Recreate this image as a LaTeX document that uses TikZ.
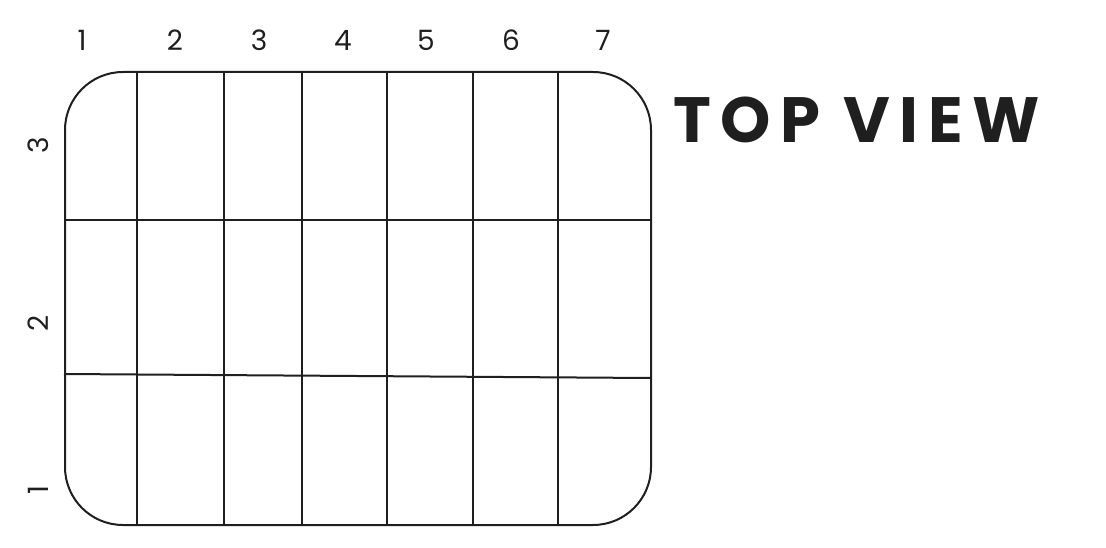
\documentclass[tikz,border=0pt]{standalone}
\usepackage{fontspec}
\setmainfont{Poppins}
\newfontfamily\titlefont[LetterSpace=15]{Poppins}
\begin{document}
\begin{tikzpicture}[x=1pt,y=-1pt,
  grid/.style={line width=2pt,draw=black!88},
  lbl/.style={font=\fontsize{28}{32}\selectfont,text=black!88,inner sep=0pt},
  title/.style={font=\titlefont\bfseries\fontsize{64}{70}\selectfont,text=black!88,inner sep=0pt,anchor=west}]
\useasboundingbox (0,0) rectangle (1106,548);
\node[draw,grid,rounded corners=58pt,minimum width=586pt,minimum height=453pt,inner sep=0pt,anchor=north west] (box) at (64,71) {};
% vertical lines
\foreach \x/\n in {137/a,224/b,302/c,387/d,473/e,558/f}{
  \coordinate (t\n) at (\x,71);
  \coordinate (b\n) at (\x,524);
  \draw[grid] (t\n) -- (b\n);
}
% horizontal lines
\coordinate (h1l) at (64,220);
\coordinate (h1r) at (650,220);
\coordinate (h2l) at (64,374);
\coordinate (h2r) at (650,378);
\draw[grid] (h1l) -- (h1r);
\draw[grid] (h2l) -- (h2r);
% column labels
\foreach \x/\t in {82/1,175/2,259/3,343/4,426/5,511/6,603/7}{
  \node[lbl] (c\t) at (\x,40) {\t};
}
% row labels
\node[lbl,rotate=90] (r3) at (38,145) {3};
\node[lbl,rotate=90] (r2) at (38,323) {2};
\node[lbl,rotate=90] (r1) at (38,490) {1};
\node[title] (tv) at (673,120) {TOP VIEW};
\end{tikzpicture}
\end{document}
